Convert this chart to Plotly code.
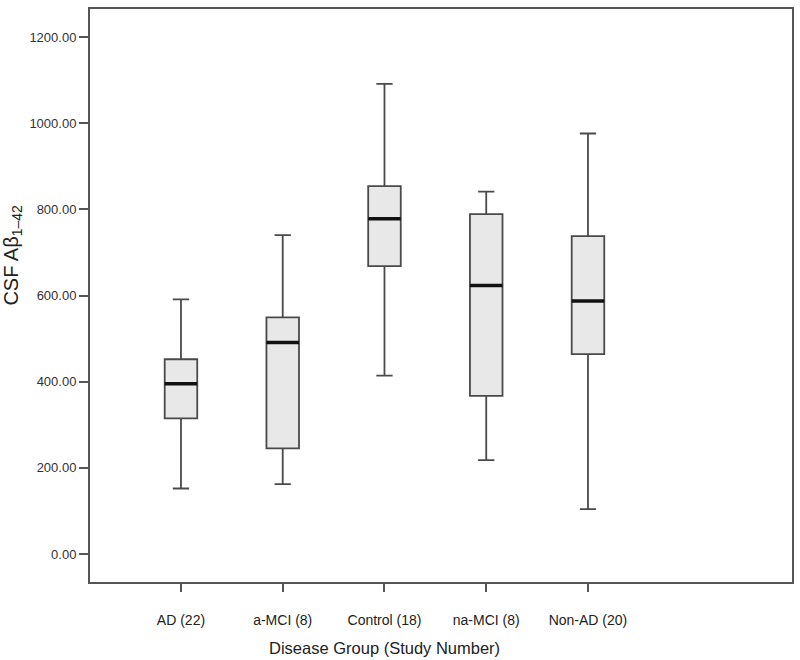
import plotly.graph_objects as go

groups = ["AD (22)", "a-MCI (8)", "Control (18)", "na-MCI (8)", "Non-AD (20)"]
lower_whisker = [152, 162, 414, 218, 104]
q1_vals = [315, 245, 668, 367, 464]
median_vals = [395, 491, 778, 623, 587]
q3_vals = [452, 549, 854, 789, 738]
upper_whisker = [591, 740, 1091, 841, 976]
y_ticks = [0, 200, 400, 600, 800, 1000, 1200]
y_ticktext = ["0.00", "200.00", "400.00", "600.00", "800.00", "1000.00", "1200.00"]

positions = list(range(len(groups)))
box_w = 0.32

fig = go.Figure()
fig.add_trace(go.Box(
    x=positions, q1=q1_vals, median=median_vals, q3=q3_vals,
    lowerfence=lower_whisker, upperfence=upper_whisker,
    width=box_w, whiskerwidth=0.5,
    fillcolor="#e8e8e8", line=dict(color="#4a4a4a", width=1.8),
    boxpoints=False, showlegend=False, hoverinfo="skip",
))
# thick median lines
for p, m in zip(positions, median_vals):
    fig.add_trace(go.Scatter(
        x=[p - box_w / 2, p + box_w / 2], y=[m, m], mode="lines",
        line=dict(color="#111111", width=3.5), showlegend=False, hoverinfo="skip",
    ))

fig.update_layout(
    width=800, height=660,
    margin=dict(l=90, r=8, t=9, b=78),
    paper_bgcolor="white", plot_bgcolor="white",
    font=dict(family="Liberation Sans, Arial, sans-serif", color="#333333"),
)
fig.update_xaxes(
    automargin=False,
    range=[-0.894, 6.005], tickmode="array", tickvals=positions, ticktext=groups,
    showgrid=False, zeroline=False, showline=True, linecolor="#555555", linewidth=2,
    mirror=True, ticks="outside", ticklen=8, tickwidth=2, tickcolor="#555555",
    tickfont=dict(size=14, color="#222222"), ticklabelstandoff=16,
)
fig.update_yaxes(
    automargin=False,
    range=[-65, 1265], tickmode="array", tickvals=y_ticks, ticktext=y_ticktext,
    showgrid=False, zeroline=False, showline=True, linecolor="#555555", linewidth=2,
    mirror=True, ticks="outside", ticklen=9, tickwidth=2, tickcolor="#555555",
    tickfont=dict(size=13, color="#333333"),
)
# axis titles (SPSS centres the x title on the categories)
fig.add_annotation(
    text="Disease Group (Study Number)", xref="x", yref="paper",
    x=(positions[0] + positions[-1]) / 2, y=-0.115, xanchor="center", yanchor="middle",
    showarrow=False, font=dict(size=16.5, color="#222222"),
)
fig.add_annotation(
    text="CSF Aβ<sub>1–42</sub>", xref="paper", yref="paper", textangle=-90,
    x=-0.11, y=0.571, xanchor="center", yanchor="middle",
    showarrow=False, font=dict(size=20, color="#222222"),
)
fig.write_html("out.html", post_script="document.body.style.margin='0';",
               config={"displayModeBar": False})
